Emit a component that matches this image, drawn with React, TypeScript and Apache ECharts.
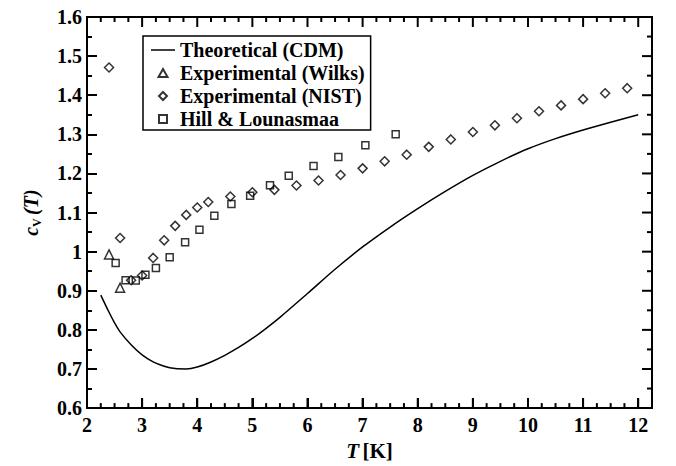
import React, { useEffect, useRef } from "react";
import * as echarts from "echarts";

// Theoretical (CDM) curve
const T_THEORY = [2.25, 2.4, 2.5, 2.6, 2.8, 3.0, 3.2, 3.4, 3.6, 3.8, 4.0, 4.25, 4.5, 4.75, 5.0, 5.25, 5.5, 6.0, 6.5, 7.0, 7.5, 8.0, 8.5, 9.0, 9.5, 10.0, 10.5, 11.0, 11.5, 12.0];
const CV_THEORY = [0.889, 0.845, 0.818, 0.795, 0.762, 0.736, 0.718, 0.707, 0.701, 0.7, 0.705, 0.718, 0.735, 0.755, 0.778, 0.804, 0.832, 0.893, 0.955, 1.012, 1.063, 1.11, 1.154, 1.195, 1.231, 1.263, 1.289, 1.311, 1.331, 1.35];

// Experimental (Wilks)
const T_WILKS = [2.4, 2.6];
const CV_WILKS = [0.993, 0.908];

// Experimental (NIST)
const T_NIST = [2.4, 2.6, 2.8, 3.0, 3.2, 3.4, 3.6, 3.8, 4.0, 4.2, 4.6, 5.0, 5.4, 5.8, 6.2, 6.6, 7.0, 7.4, 7.8, 8.2, 8.6, 9.0, 9.4, 9.8, 10.2, 10.6, 11.0, 11.4, 11.8];
const CV_NIST = [1.471, 1.035, 0.927, 0.939, 0.984, 1.029, 1.066, 1.094, 1.113, 1.127, 1.141, 1.152, 1.158, 1.169, 1.182, 1.196, 1.213, 1.231, 1.248, 1.268, 1.287, 1.306, 1.323, 1.341, 1.359, 1.374, 1.39, 1.405, 1.418];

// Hill & Lounasmaa
const T_HILL = [2.52, 2.7, 2.885, 3.06, 3.25, 3.5, 3.78, 4.04, 4.31, 4.62, 4.96, 5.32, 5.66, 6.11, 6.56, 7.05, 7.6];
const CV_HILL = [0.971, 0.927, 0.926, 0.941, 0.958, 0.986, 1.024, 1.056, 1.092, 1.122, 1.143, 1.17, 1.194, 1.219, 1.242, 1.272, 1.3];

const SERIES_NAMES = ["Theoretical (CDM)", "Experimental (Wilks)", "Experimental (NIST)", "Hill & Lounasmaa"];

// Axis ranges and tick steps
const X_MIN = 2;
const X_MAX = 12.25;
const X_LAST_TICK = 12;
const X_MAJOR = 1;
const X_MINOR = 0.25;
const Y_MIN = 0.6;
const Y_MAX = 1.6;
const Y_MAJOR = 0.1;
const Y_MINOR = 0.05;

const FONT = "'Liberation Serif', 'DejaVu Serif', serif";

const zip = (xs: number[], ys: number[]) => xs.map((x, i) => [x, ys[i]]);

const steps = (from: number, to: number, step: number) => {
  const out: number[] = [];
  const n = Math.round((to - from) / step);
  for (let i = 0; i <= n; i++) out.push(+(from + i * step).toFixed(4));
  return out;
};

const isMultiple = (v: number, of: number) => Math.abs(v / of - Math.round(v / of)) < 1e-6;

export default function App() {
  const ref = useRef<HTMLDivElement>(null);

  useEffect(() => {
    document.body.style.margin = "0";
    if (!ref.current) return;
    const chart = echarts.init(ref.current, undefined, { renderer: "svg" });

    const MAJOR_LEN = 10;
    const MINOR_LEN = 5;
    const TICK_W = 2;

    const markerStyle = () => ({
      color: "rgba(0,0,0,0)",
      borderColor: "#000",
      borderWidth: 1.5,
    });

    chart.setOption({
      animation: false,
      grid: {
        left: 87,
        right: 24,
        top: 17,
        bottom: 54,
        show: true,
        borderColor: "#000",
        borderWidth: 2,
        backgroundColor: "transparent",
      },
      xAxis: {
        type: "value",
        min: X_MIN,
        max: X_MAX,
        interval: X_MAJOR,
        axisLine: { show: true, onZero: false, lineStyle: { color: "#000", width: 2 } },
        axisTick: { show: true, inside: true, length: MAJOR_LEN, lineStyle: { color: "#000", width: TICK_W } },
        axisLabel: {
          show: true,
          showMaxLabel: false,
          margin: 7,
          color: "#000",
          fontFamily: FONT,
          fontWeight: "bold",
          fontSize: 20,
        },
        splitLine: { show: false },
        name: "{i|T} {b|[K]}",
        nameLocation: "middle",
        nameGap: 28,
        nameTextStyle: {
          rich: {
            i: { fontFamily: FONT, fontStyle: "italic", fontWeight: "bold", fontSize: 21, color: "#000" },
            b: { fontFamily: FONT, fontWeight: "bold", fontSize: 21, color: "#000" },
          },
        },
      },
      yAxis: {
        type: "value",
        min: Y_MIN,
        max: Y_MAX,
        interval: Y_MAJOR,
        axisLine: { show: true, onZero: false, lineStyle: { color: "#000", width: 2 } },
        axisTick: { show: true, inside: true, length: MAJOR_LEN, lineStyle: { color: "#000", width: TICK_W } },
        minorTick: { show: true, splitNumber: 2, length: MINOR_LEN, lineStyle: { color: "#000", width: TICK_W } },
        axisLabel: {
          show: true,
          margin: 5,
          color: "#000",
          fontFamily: FONT,
          fontWeight: "bold",
          fontSize: 20,
        },
        splitLine: { show: false },
        minorSplitLine: { show: false },
        name: "{i|c}{s|V} {i|(T)}",
        nameLocation: "middle",
        nameRotate: 90,
        nameGap: 46,
        nameTextStyle: {
          rich: {
            i: {
              fontFamily: FONT,
              fontStyle: "italic",
              fontWeight: "bold",
              fontSize: 20,
              lineHeight: 20,
              verticalAlign: "top",
              color: "#000",
            },
            s: {
              fontFamily: FONT,
              fontWeight: "bold",
              fontSize: 12,
              lineHeight: 12,
              verticalAlign: "top",
              padding: [10, 0, 0, 0],
              color: "#000",
            },
          },
        },
      },
      legend: {
        show: true,
        orient: "vertical",
        left: 143,
        top: 36,
        data: [
          { name: SERIES_NAMES[0], icon: "path://M0,0 H24 V1.5 H0 Z" },
          { name: SERIES_NAMES[1], icon: "path://M4.5,0 L9,8 L0,8 Z" },
          { name: SERIES_NAMES[2], icon: "path://M4,0 L8,4 L4,8 L0,4 Z" },
          { name: SERIES_NAMES[3], icon: "path://M0,0 H7 V7 H0 Z" },
        ],
        symbolKeepAspect: true,
        itemWidth: 24,
        itemHeight: 8,
        itemGap: 3,
        padding: [4, 6, 1, 8],
        borderColor: "#000",
        borderWidth: 1.5,
        textStyle: {
          fontFamily: FONT,
          fontWeight: "bold",
          fontSize: 20,
          lineHeight: 20,
          color: "#000",
        },
      },
      series: [
        {
          name: SERIES_NAMES[0],
          type: "line",
          data: zip(T_THEORY, CV_THEORY),
          smooth: 0.3,
          symbol: "none",
          lineStyle: { color: "#000", width: 1.5 },
          itemStyle: { color: "#000" },
        },
        {
          name: SERIES_NAMES[1],
          type: "scatter",
          data: zip(T_WILKS, CV_WILKS),
          symbol: "triangle",
          symbolSize: 9,
          itemStyle: markerStyle(),
        },
        {
          name: SERIES_NAMES[2],
          type: "scatter",
          data: zip(T_NIST, CV_NIST),
          symbol: "diamond",
          symbolSize: 9,
          itemStyle: markerStyle(),
        },
        {
          name: SERIES_NAMES[3],
          type: "scatter",
          data: zip(T_HILL, CV_HILL),
          symbol: "rect",
          symbolSize: 7,
          itemStyle: markerStyle(),
        },
      ],
    });

    // minor x ticks and the mirrored ticks on the top and right sides,
    // positioned through the chart's own axis scales
    const toPx = (x: number, y: number) =>
      chart.convertToPixel({ xAxisIndex: 0, yAxisIndex: 0 }, [x, y]) as number[];
    const ticks: any[] = [];
    const tickLine = (x1: number, y1: number, x2: number, y2: number) => ({
      type: "line",
      shape: { x1, y1, x2, y2 },
      style: { stroke: "#000", lineWidth: TICK_W },
    });
    steps(X_MIN, X_LAST_TICK, X_MINOR)
      .filter((v) => v > X_MIN)
      .forEach((v) => {
        const len = isMultiple(v, X_MAJOR) ? MAJOR_LEN : MINOR_LEN;
        const b = toPx(v, Y_MIN);
        const t = toPx(v, Y_MAX);
        ticks.push(tickLine(b[0], b[1], b[0], b[1] - len));
        ticks.push(tickLine(t[0], t[1], t[0], t[1] + len));
      });
    steps(Y_MIN, Y_MAX, Y_MINOR)
      .filter((v) => v > Y_MIN + 1e-6 && v < Y_MAX - 1e-6)
      .forEach((v) => {
        const len = isMultiple(v, Y_MAJOR) ? MAJOR_LEN : MINOR_LEN;
        const r = toPx(X_MAX, v);
        ticks.push(tickLine(r[0], r[1], r[0] - len, r[1]));
      });
    chart.setOption({ graphic: ticks });

    return () => chart.dispose();
  }, []);

  return <div ref={ref} style={{ width: 676, height: 466 }} />;
}
